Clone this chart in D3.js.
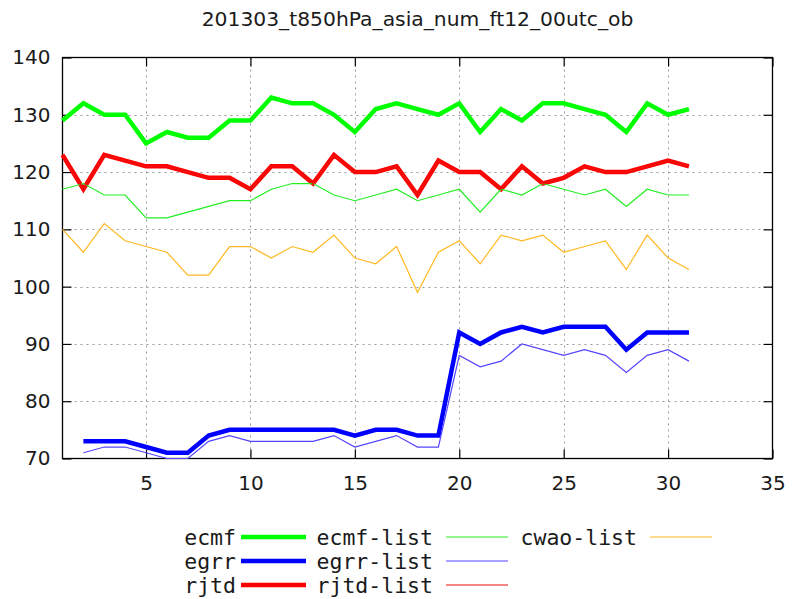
<!DOCTYPE html>
<html>
<head>
<meta charset="utf-8">
<script src="https://cdn.jsdelivr.net/npm/d3@7"></script>
<style>
html,body{margin:0;padding:0;background:#fff;}
svg{display:block;}
</style>
</head>
<body>
<script>
const title = "201303_t850hPa_asia_num_ft12_00utc_ob";
const days = d3.range(1, 32);
const xTicks = [5, 10, 15, 20, 25, 30, 35];
const yTicks = [70, 80, 90, 100, 110, 120, 130, 140];

const ecmf = [129,132,130,130,125,127,126,126,129,129,133,132,132,130,127,131,132,131,130,132,127,131,129,132,132,131,130,127,132,130,131];
const egrr = [null,73,73,73,72,71,71,74,75,75,75,75,75,75,74,75,75,74,74,92,90,92,93,92,93,93,93,89,92,92,92];
const rjtd = [123,117,123,122,121,121,120,119,119,117,121,121,118,123,120,120,121,116,122,120,120,117,121,118,119,121,120,120,121,122,121];
const ecmfList = [117,118,116,116,112,112,113,114,115,115,117,118,118,116,115,116,117,115,116,117,113,117,116,118,117,116,117,114,117,116,116];
const egrrList = [null,71,72,72,71,70,70,73,74,73,73,73,73,74,72,73,74,72,72,88,86,87,90,89,88,89,88,85,88,89,87];
const rjtdList = [123,117,123,122,121,121,120,119,119,117,121,121,118,123,120,120,121,116,122,120,120,117,121,118,119,121,120,120,121,122,121];
const cwaoList = [110,106,111,108,107,106,102,102,107,107,105,107,106,109,105,104,107,99,106,108,104,109,108,109,106,107,108,103,109,105,103];

const series = [
  {name:"ecmf", values:ecmf, color:"#00ff00", width:4.5, col:0, row:0},
  {name:"egrr", values:egrr, color:"#0000ff", width:4.5, col:0, row:1},
  {name:"rjtd", values:rjtd, color:"#ff0000", width:4.5, col:0, row:2},
  {name:"ecmf-list", values:ecmfList, color:"#22ee22", width:1.2, col:1, row:0},
  {name:"egrr-list", values:egrrList, color:"#5544ff", width:1.2, col:1, row:1},
  {name:"rjtd-list", values:rjtdList, color:"#ee1111", width:1.2, col:1, row:2},
  {name:"cwao-list", values:cwaoList, color:"#ffb820", width:1.2, col:2, row:0}
];

const W = 793, H = 599;
const L = 62.5, R = 772.5, T = 57.5, B = 458.5;

const svg = d3.select("body").append("svg").attr("width", W).attr("height", H);
const x = d3.scaleLinear().domain([1, 35]).range([L, R]);
const y = d3.scaleLinear().domain([70, 140]).range([B, T]);

// grid
const grid = svg.append("g").attr("stroke", "#999").attr("stroke-width", 1).attr("stroke-dasharray", "2,4");
xTicks.filter(t => t < 35).forEach(t => {
  grid.append("line").attr("x1", Math.round(x(t))+0.5).attr("x2", Math.round(x(t))+0.5).attr("y1", T).attr("y2", B);
});
yTicks.filter(t => t > 70 && t < 140).forEach(t => {
  grid.append("line").attr("y1", Math.round(y(t))+0.5).attr("y2", Math.round(y(t))+0.5).attr("x1", L).attr("x2", R);
});

// axes with inward ticks
const tickLen = 9;
const axisFont = "DejaVu Sans, sans-serif";
const xAxisB = svg.append("g").attr("transform", `translate(0,${B})`)
  .call(d3.axisBottom(x).tickValues(xTicks).tickSizeInner(-tickLen).tickSizeOuter(0).tickPadding(17));
const xAxisT = svg.append("g").attr("transform", `translate(0,${T})`)
  .call(d3.axisTop(x).tickValues(xTicks).tickSizeInner(-tickLen).tickSizeOuter(0).tickFormat(""));
const yAxisL = svg.append("g").attr("transform", `translate(${L},0)`)
  .call(d3.axisLeft(y).tickValues(yTicks).tickSizeInner(-tickLen).tickSizeOuter(0).tickPadding(12));
const yAxisR = svg.append("g").attr("transform", `translate(${R},0)`)
  .call(d3.axisRight(y).tickValues(yTicks).tickSizeInner(-tickLen).tickSizeOuter(0).tickFormat(""));
[xAxisB, xAxisT, yAxisL, yAxisR].forEach(g => {
  g.select(".domain").remove();
  g.selectAll("line").attr("stroke", "#000").attr("stroke-width", 1.2);
  g.selectAll("text").attr("font-family", axisFont).attr("font-size", 20).attr("fill", "#1a1a1a");
});
xAxisB.selectAll("text").attr("dy", "0.71em");

// border
svg.append("rect").attr("x", L).attr("y", T).attr("width", R - L).attr("height", B - T)
  .attr("fill", "none").attr("stroke", "#000").attr("stroke-width", 1.3);

// lines
const line = d3.line().defined(d => d.v != null).x(d => x(d.day)).y(d => y(d.v)).curve(d3.curveLinear);
series.forEach(s => {
  svg.append("path")
    .datum(days.map((d, i) => ({day: d, v: s.values[i]})))
    .attr("fill", "none").attr("stroke", s.color).attr("stroke-width", s.width)
    .attr("stroke-linejoin", "miter").attr("d", line);
});

// title
svg.append("text").attr("x", (L + R) / 2).attr("y", 26).attr("text-anchor", "middle")
  .attr("font-family", axisFont).attr("font-size", 20.3).attr("fill", "#1a1a1a").text(title);

// legend
const legTextRight = [236, 433, 637];
const legLine = [[241, 306], [446, 508], [650, 712]];
const legRowY = [537, 561, 585];
const lg = svg.append("g");
series.forEach(s => {
  lg.append("text").attr("x", legTextRight[s.col]).attr("y", legRowY[s.row])
    .attr("text-anchor", "end").attr("dominant-baseline", "central")
    .attr("font-family", "DejaVu Sans Mono, monospace").attr("font-size", 21.5).attr("fill", "#1a1a1a")
    .text(s.name);
  lg.append("line").attr("x1", legLine[s.col][0]).attr("x2", legLine[s.col][1])
    .attr("y1", legRowY[s.row]).attr("y2", legRowY[s.row])
    .attr("stroke", s.color).attr("stroke-width", s.width);
});
</script>
</body>
</html>
